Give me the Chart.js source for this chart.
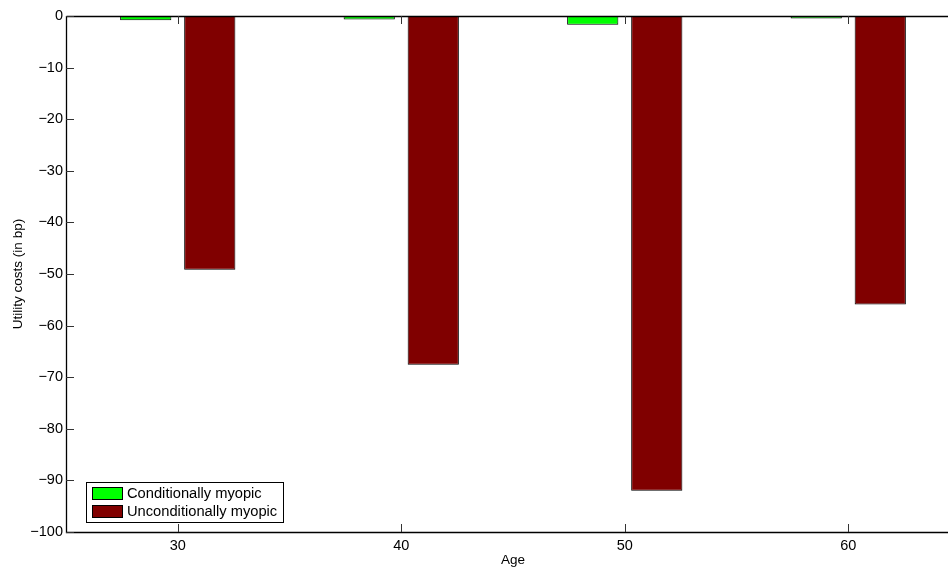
<!DOCTYPE html>
<html>
<head>
<meta charset="utf-8">
<script src="https://cdn.jsdelivr.net/npm/chart.js@4/dist/chart.umd.min.js"></script>
<style>
  html, body { margin: 0; padding: 0; background: #fff; overflow: hidden; }
  #wrap { width: 960px; height: 568px; position: relative; }
</style>
</head>
<body>
<div id="wrap"><canvas id="grafico"></canvas></div>
<script>
// dados
const idades = ['30', '40', '50', '60'];
const condicionalmenteMiope = [-0.8, -0.7, -1.7, -0.5];
const incondicionalmenteMiope = [-49.2, -67.6, -92.0, -55.9];
const ticksY = [0, -10, -20, -30, -40, -50, -60, -70, -80, -90, -100];

const fonte = 'Liberation Sans, Arial, Helvetica, sans-serif';

// eixos estilo MATLAB: caixa e ticks para dentro
const eixosMatlab = {
    id: 'eixosMatlab',
    afterDatasetsDraw(chart) {
        const { ctx, chartArea: a, scales } = chart;
        ctx.save();
        ctx.strokeStyle = '#000';
        ctx.lineWidth = 1.3;
        ctx.beginPath();
        ctx.moveTo(a.left + 0.5, a.top + 0.5);
        ctx.lineTo(a.right, a.top + 0.5);
        ctx.moveTo(a.left + 0.5, a.top);
        ctx.lineTo(a.left + 0.5, a.bottom + 0.5);
        ctx.lineTo(a.right, a.bottom + 0.5);
        ctx.stroke();

        ctx.strokeStyle = '#333';
        ctx.lineWidth = 1;
        ctx.beginPath();
        scales.y.ticks.forEach((t, i) => {
            const y = Math.round(scales.y.getPixelForTick(i)) + 0.5;
            ctx.moveTo(a.left, y);
            ctx.lineTo(a.left + 8, y);
        });
        scales.x.ticks.forEach((t, i) => {
            const x = Math.round(scales.x.getPixelForTick(i)) + 0.5;
            ctx.moveTo(x, a.bottom);
            ctx.lineTo(x, a.bottom - 8);
            ctx.moveTo(x, a.top);
            ctx.lineTo(x, a.top + 8);
        });
        ctx.stroke();

        // legenda dentro da área do gráfico
        const lx = a.left + 20, ly = a.bottom - 50;
        ctx.fillStyle = '#fff';
        ctx.fillRect(lx, ly, 197, 40);
        ctx.strokeStyle = '#000';
        ctx.strokeRect(lx + 0.5, ly + 0.5, 197, 40);
        ctx.font = '14.7px ' + fonte;
        ctx.textBaseline = 'middle';
        chart.data.datasets.forEach((ds, i) => {
            const y = ly + 5 + i * 18;
            ctx.fillStyle = ds.backgroundColor;
            ctx.fillRect(lx + 6, y, 31, 13);
            ctx.strokeStyle = '#000';
            ctx.strokeRect(lx + 6.5, y + 0.5, 30, 12);
            ctx.fillStyle = '#000';
            ctx.fillText(ds.label, lx + 41, y + 7);
        });
        ctx.restore();
    }
};

new Chart(document.getElementById('grafico'), {
    type: 'bar',
    data: {
        labels: idades,
        datasets: [{
            label: 'Conditionally myopic',
            data: condicionalmenteMiope,
            backgroundColor: '#00ff00',
            borderColor: '#000',
            borderWidth: 1
        }, {
            label: 'Unconditionally myopic',
            data: incondicionalmenteMiope,
            backgroundColor: '#800000',
            borderColor: '#000',
            borderWidth: 1
        }]
    },
    options: {
        responsive: true,
        maintainAspectRatio: false,
        animation: false,
        barPercentage: 0.8,
        categoryPercentage: 0.573,
        layout: { padding: { top: 16, right: 0, left: 0, bottom: 0 } },
        plugins: {
            legend: { display: false },
            tooltip: { enabled: false }
        },
        scales: {
            x: {
                offset: true,
                grid: { display: false, drawTicks: false },
                border: { display: false },
                ticks: { color: '#000', padding: 5, font: { family: fonte, size: 14.5 } },
                title: { display: true, text: 'Age', color: '#000', padding: { top: 0, bottom: 0 }, font: { family: fonte, size: 13.5 } },
                afterFit(s) { s.height = 36; }
            },
            y: {
                min: -100,
                max: 0,
                afterBuildTicks(s) { s.ticks = ticksY.map(v => ({ value: v })); },
                grid: { display: false, drawTicks: false },
                border: { display: false },
                ticks: {
                    color: '#000',
                    padding: 3,
                    font: { family: fonte, size: 14.5 },
                    callback: v => String(v).replace('-', '\u2212')
                },
                title: { display: true, text: 'Utility costs (in bp)', color: '#000', padding: { top: 10, bottom: 0 }, font: { family: fonte, size: 13.5 } },
                afterFit(s) { s.width = 66; }
            }
        }
    },
    plugins: [eixosMatlab]
});
</script>
</body>
</html>
